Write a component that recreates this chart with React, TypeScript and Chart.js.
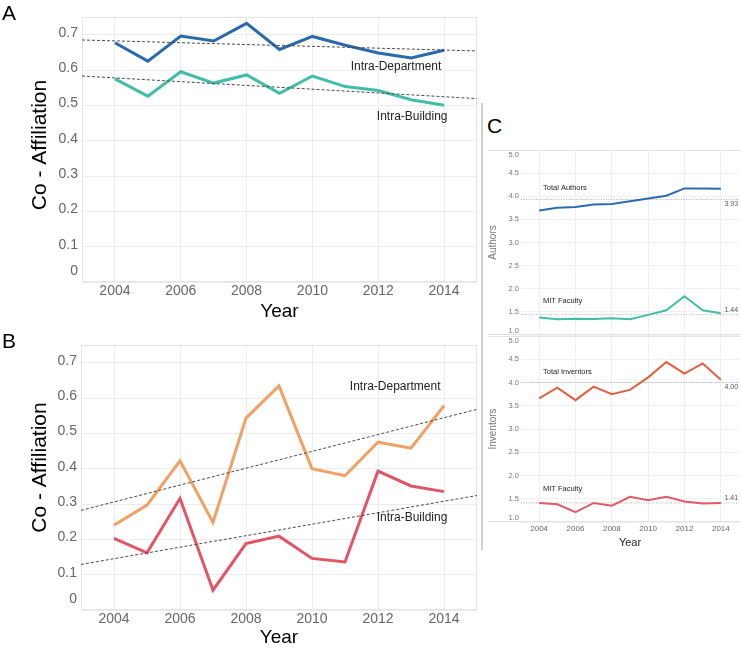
import React, { useEffect, useRef } from "react";
import { Chart, registerables } from "chart.js";
Chart.register(...registerables);

// ---------- data ----------
const YEARS = [2004, 2005, 2006, 2007, 2008, 2009, 2010, 2011, 2012, 2013, 2014];
const TREND_YEARS = [2003, 2015];

const A_DEPT = [0.677, 0.625, 0.696, 0.682, 0.732, 0.658, 0.695, 0.67, 0.648, 0.634, 0.656];
const A_BLDG = [0.575, 0.526, 0.595, 0.563, 0.586, 0.534, 0.583, 0.553, 0.542, 0.516, 0.5];
const A_DEPT_TREND = [0.685, 0.654];
const A_BLDG_TREND = [0.583, 0.519];

const B_DEPT = [0.24, 0.297, 0.422, 0.248, 0.543, 0.634, 0.4, 0.38, 0.475, 0.458, 0.578];
const B_BLDG = [0.203, 0.162, 0.316, 0.056, 0.188, 0.209, 0.146, 0.136, 0.393, 0.351, 0.335];
const B_DEPT_TREND = [0.282, 0.568];
const B_BLDG_TREND = [0.129, 0.324];

const AUTHORS_TOTAL = [3.69, 3.75, 3.77, 3.82, 3.83, 3.89, 3.95, 4.01, 4.17, 4.17, 4.16];
const AUTHORS_MIT = [1.38, 1.34, 1.35, 1.345, 1.36, 1.34, 1.435, 1.535, 1.84, 1.535, 1.47];
const INVENTORS_TOTAL = [3.66, 3.89, 3.62, 3.91, 3.75, 3.84, 4.11, 4.44, 4.19, 4.41, 4.06];
const INVENTORS_MIT = [1.41, 1.38, 1.21, 1.41, 1.35, 1.54, 1.47, 1.54, 1.44, 1.4, 1.41];
const AUTHORS_REF = [3.93, 1.44];
const INVENTORS_REF = [4.0, 1.41];

const AB_Y_TICKS = [0, 0.1, 0.2, 0.3, 0.4, 0.5, 0.6, 0.7];
const C_Y_TICKS = [1.0, 1.5, 2.0, 2.5, 3.0, 3.5, 4.0, 4.5, 5.0];
const X_TICKS = [2004, 2006, 2008, 2010, 2012, 2014];

const FONT = "Liberation Sans, Arial, sans-serif";

// ---------- plugins ----------
function yLabelPlugin(fmt: (v: number) => string, size: number, color: string, pad: number, margin: number, dy: number) {
  return {
    id: "yLabels",
    afterDraw(chart: any) {
      const s = chart.scales.y;
      const a = chart.chartArea;
      const ctx = chart.ctx;
      ctx.save();
      ctx.font = `${size}px ${FONT}`;
      ctx.fillStyle = color;
      ctx.textAlign = "right";
      ctx.textBaseline = "middle";
      s.ticks.forEach((t: any) => {
        let y = s.getPixelForValue(t.value) + dy;
        y = Math.min(Math.max(y, a.top + margin), a.bottom - margin);
        ctx.fillText(fmt(t.value), s.right - pad, y);
      });
      ctx.restore();
    },
  };
}

function yTitlePlugin(text: string, size: number, color: string, x: number, dy: number) {
  return {
    id: "yTitle",
    afterDraw(chart: any) {
      const a = chart.chartArea;
      const ctx = chart.ctx;
      ctx.save();
      ctx.font = `${size}px ${FONT}`;
      ctx.fillStyle = color;
      ctx.textAlign = "center";
      ctx.textBaseline = "middle";
      ctx.translate(x, (a.top + a.bottom) / 2 + dy);
      ctx.rotate(-Math.PI / 2);
      ctx.fillText(text, 0, 0);
      ctx.restore();
    },
  };
}

type Note = { text: string; x: number; y: number; align: CanvasTextAlign; dy?: number; size: number; color: string };
function notesPlugin(items: Note[]) {
  return {
    id: "notes",
    afterDatasetsDraw(chart: any) {
      const ctx = chart.ctx;
      ctx.save();
      items.forEach((n) => {
        ctx.font = `${n.size}px ${FONT}`;
        ctx.fillStyle = n.color;
        ctx.textAlign = n.align;
        ctx.textBaseline = "middle";
        const px = chart.scales.x.getPixelForValue(n.x);
        const py = chart.scales.y.getPixelForValue(n.y) + (n.dy || 0);
        ctx.fillText(n.text, px, py);
      });
      ctx.restore();
    },
  };
}

function boxPlugin(color: string) {
  return {
    id: "box",
    beforeDatasetsDraw(chart: any) {
      const a = chart.chartArea;
      const ctx = chart.ctx;
      ctx.save();
      ctx.strokeStyle = color;
      ctx.lineWidth = 1;
      ctx.strokeRect(Math.round(a.left) + 0.5, Math.round(a.top) + 0.5, Math.round(a.right - a.left) - 1, Math.round(a.bottom - a.top) - 1);
      ctx.restore();
    },
  };
}

function paneLinesPlugin(color: string, top: boolean, bottom: boolean) {
  return {
    id: "pane",
    beforeDatasetsDraw(chart: any) {
      const a = chart.chartArea;
      const ctx = chart.ctx;
      ctx.save();
      ctx.strokeStyle = color;
      ctx.lineWidth = 1;
      ctx.beginPath();
      if (top) {
        ctx.moveTo(2, Math.round(a.top) + 0.5);
        ctx.lineTo(chart.width, Math.round(a.top) + 0.5);
      }
      if (bottom) {
        ctx.moveTo(2, Math.round(a.bottom) - 0.5);
        ctx.lineTo(chart.width, Math.round(a.bottom) - 0.5);
      }
      ctx.stroke();
      ctx.restore();
    },
  };
}

// ---------- helpers ----------
const pts = (vals: number[]) => YEARS.map((x, i) => ({ x, y: vals[i] }));
const trendPts = (vals: number[]) => TREND_YEARS.map((x, i) => ({ x, y: vals[i] }));
const flatPts = (v: number) => TREND_YEARS.map((x) => ({ x, y: v }));

function lineDs(vals: number[], color: string, width: number) {
  return { data: pts(vals), borderColor: color, borderWidth: width, pointRadius: 0, tension: 0, fill: false };
}
function trendDs(vals: number[]) {
  return { data: trendPts(vals), borderColor: "#4a4a4a", borderWidth: 1, borderDash: [3, 2], pointRadius: 0, tension: 0, fill: false };
}
function refDs(v: number) {
  return { data: flatPts(v), borderColor: "#b0b0b0", borderWidth: 1, borderDash: [1, 1.5], pointRadius: 0, tension: 0, fill: false };
}

function abConfig(dept: number[], bldg: number[], deptT: number[], bldgT: number[], cDept: string, cBldg: string, notes: Note[], padTop: number, yw: number, xh: number, titleDy: number) {
  return {
    type: "line",
    data: {
      datasets: [trendDs(deptT), trendDs(bldgT), lineDs(dept, cDept, 3), lineDs(bldg, cBldg, 3)],
    },
    options: {
      animation: false,
      responsive: false,
      layout: { padding: { top: padTop, right: 3, left: 0, bottom: 0 } },
      plugins: { legend: { display: false }, tooltip: { enabled: false } },
      scales: {
        x: {
          type: "linear",
          min: 2003,
          max: 2015,
          afterBuildTicks: (s: any) => {
            s.ticks = X_TICKS.map((v) => ({ value: v }));
          },
          afterFit: (s: any) => {
            s.height = xh;
          },
          ticks: { callback: (v: any) => String(v), font: { family: FONT, size: 14 }, color: "#666", padding: 1, maxRotation: 0, autoSkip: false },
          grid: { color: "#ececec", drawTicks: false },
          border: { display: false },
          title: { display: true, text: "Year", font: { family: FONT, size: 19 }, color: "#000", padding: { top: 0, bottom: 3 } },
        },
        y: {
          type: "linear",
          min: 0,
          max: 0.75,
          afterBuildTicks: (s: any) => {
            s.ticks = AB_Y_TICKS.map((v) => ({ value: v }));
          },
          afterFit: (s: any) => {
            s.width = yw;
          },
          ticks: { display: false },
          grid: { color: "#ececec", drawTicks: false },
          border: { display: false },
          title: { display: false },
        },
      },
    },
    plugins: [
      boxPlugin("#e4e4e4"),
      yLabelPlugin((v) => (v === 0 ? "0" : v.toFixed(1)), 14, "#666", 4, 10.5, -2),
      yTitlePlugin("Co - Affiliation", 21, "#000", 40, titleDy),
      notesPlugin(notes),
    ],
  };
}

function cConfig(total: number[], mit: number[], refs: number[], cTotal: string, cMit: string, title: string, showX: boolean, notes: Note[], pad: any, xh: number) {
  return {
    type: "line",
    data: {
      datasets: [lineDs(total, cTotal, 2), lineDs(mit, cMit, 2), refDs(refs[0]), refDs(refs[1])],
    },
    options: {
      animation: false,
      responsive: false,
      layout: { padding: pad },
      plugins: { legend: { display: false }, tooltip: { enabled: false } },
      scales: {
        x: {
          type: "linear",
          min: 2003,
          max: 2015,
          afterBuildTicks: (s: any) => {
            s.ticks = X_TICKS.map((v) => ({ value: v }));
          },
          afterFit: (s: any) => {
            s.height = xh;
          },
          ticks: { display: showX, callback: (v: any) => String(v), font: { family: FONT, size: 8 }, color: "#666", padding: 2, maxRotation: 0, autoSkip: false },
          grid: { color: "#efefef", drawTicks: false },
          border: { display: false },
          title: { display: showX, text: "Year", font: { family: FONT, size: 11 }, color: "#222", padding: { top: 0, bottom: 10.4 } },
        },
        y: {
          type: "linear",
          min: 1,
          max: 5,
          afterBuildTicks: (s: any) => {
            s.ticks = C_Y_TICKS.map((v) => ({ value: v }));
          },
          afterFit: (s: any) => {
            s.width = 35;
          },
          ticks: { display: false },
          grid: { color: "#f1f1f1", drawTicks: false },
          border: { display: false },
          title: { display: true, text: title, font: { family: FONT, size: 10 }, color: "#777", padding: { top: 1.6, bottom: 0 } },
        },
      },
    },
    plugins: [
      paneLinesPlugin("#e2e2e2", true, true),
      yLabelPlugin((v) => v.toFixed(1), 7.5, "#777", 2, 4.5, 0),
      notesPlugin(notes),
    ],
  };
}

function ChartBox(props: { left: number; top: number; width: number; height: number; build: () => any }) {
  const ref = useRef<HTMLCanvasElement | null>(null);
  useEffect(() => {
    if (!ref.current) return;
    const chart = new Chart(ref.current, props.build());
    return () => chart.destroy();
  }, []);
  return (
    <canvas
      ref={ref}
      width={props.width}
      height={props.height}
      style={{ position: "absolute", left: props.left, top: props.top, width: props.width, height: props.height }}
    />
  );
}

const letterStyle = (left: number, top: number): React.CSSProperties => ({
  position: "absolute",
  left,
  top,
  fontFamily: FONT,
  fontSize: 21,
  lineHeight: "21px",
  color: "#000",
});

export default function App() {
  const noteA: Note[] = [
    { text: "Intra-Department", x: 2012.54, y: 0.609, align: "center", size: 12, color: "#222" },
    { text: "Intra-Building", x: 2013.03, y: 0.467, align: "center", size: 12, color: "#222" },
  ];
  const noteB: Note[] = [
    { text: "Intra-Department", x: 2012.52, y: 0.632, align: "center", size: 12, color: "#222" },
    { text: "Intra-Building", x: 2013.03, y: 0.261, align: "center", size: 12, color: "#222" },
  ];
  const noteC1: Note[] = [
    { text: "Total Authors", x: 2004.21, y: 4.18, align: "left", size: 7.5, color: "#222" },
    { text: "MIT Faculty", x: 2004.21, y: 1.74, align: "left", size: 7.5, color: "#222" },
    { text: AUTHORS_REF[0].toFixed(2), x: 2014.95, y: AUTHORS_REF[0], align: "right", dy: 5, size: 7, color: "#555" },
    { text: AUTHORS_REF[1].toFixed(2), x: 2014.95, y: AUTHORS_REF[1], align: "right", dy: -4.5, size: 7, color: "#555" },
  ];
  const noteC2: Note[] = [
    { text: "Total Inventors", x: 2004.21, y: 4.23, align: "left", size: 7.5, color: "#222" },
    { text: "MIT Faculty", x: 2004.21, y: 1.71, align: "left", size: 7.5, color: "#222" },
    { text: INVENTORS_REF[0].toFixed(2), x: 2014.95, y: INVENTORS_REF[0], align: "right", dy: 5, size: 7, color: "#555" },
    { text: INVENTORS_REF[1].toFixed(2), x: 2014.95, y: INVENTORS_REF[1], align: "right", dy: -4.5, size: 7, color: "#555" },
  ];

  return (
    <div style={{ position: "absolute", left: 0, top: 0, width: 741, height: 652, background: "#fff", overflow: "hidden" }}>
      <ChartBox
        left={0}
        top={0}
        width={480}
        height={326}
        build={() => abConfig(A_DEPT, A_BLDG, A_DEPT_TREND, A_BLDG_TREND, "#2a6aab", "#40bea9", noteA, 17, 82, 44, -4.5)}
      />
      <ChartBox
        left={0}
        top={326}
        width={480}
        height={326}
        build={() => abConfig(B_DEPT, B_BLDG, B_DEPT_TREND, B_BLDG_TREND, "#f2a063", "#e35467", noteB, 19, 81, 42, -10)}
      />
      <ChartBox
        left={486}
        top={140}
        width={255}
        height={196}
        build={() =>
          cConfig(AUTHORS_TOTAL, AUTHORS_MIT, AUTHORS_REF, "#2b6cae", "#3fbea8", "Authors", false, noteC1, { top: 10, right: 2, bottom: 1, left: 0 }, 0)
        }
      />
      <ChartBox
        left={486}
        top={335}
        width={255}
        height={225}
        build={() =>
          cConfig(INVENTORS_TOTAL, INVENTORS_MIT, INVENTORS_REF, "#e2603f", "#e4596a", "Inventors", true, noteC2, { top: 1, right: 2, bottom: 0, left: 0 }, 38)
        }
      />
      <div style={{ position: "absolute", left: 481, top: 103, width: 2, height: 447, background: "#cfcfcf" }} />
      <div style={letterStyle(2, 2)}>A</div>
      <div style={letterStyle(2, 330)}>B</div>
      <div style={letterStyle(487, 115)}>C</div>
    </div>
  );
}
